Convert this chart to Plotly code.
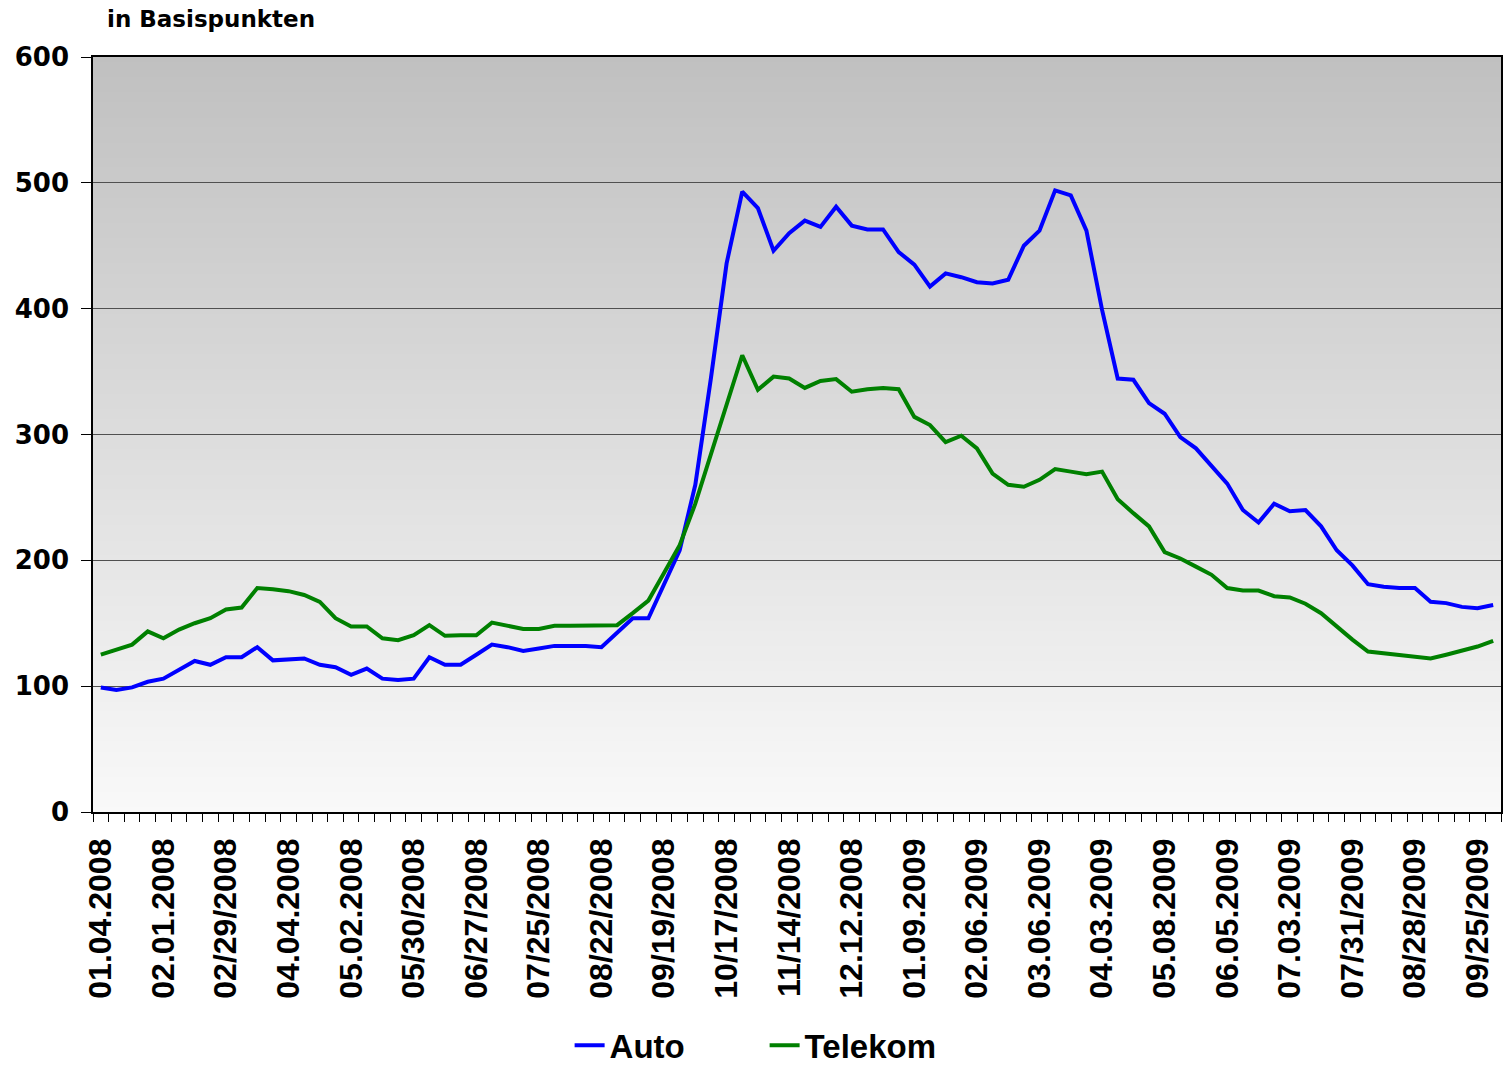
import plotly.graph_objects as go

# ---- data ----
tick_labels = ["01.04.2008", "02.01.2008", "02/29/2008", "04.04.2008", "05.02.2008",
               "05/30/2008", "06/27/2008", "07/25/2008", "08/22/2008", "09/19/2008",
               "10/17/2008", "11/14/2008", "12.12.2008", "01.09.2009", "02.06.2009",
               "03.06.2009", "04.03.2009", "05.08.2009", "06.05.2009", "07.03.2009",
               "07/31/2009", "08/28/2009", "09/25/2009"]

auto = [99, 97, 99, 103.5, 106, 113, 120, 117, 123, 123,
        131, 120.5, 121, 122, 117, 115, 109, 114, 106, 105,
        106, 123, 117, 117, 125, 133, 131, 128, 130, 132,
        132, 132, 131, 142, 154, 154, 181, 208, 260, 345,
        436, 493, 480, 446, 460, 470, 465, 481, 466, 463,
        463, 445, 435, 417.5, 428, 425, 421, 420, 423, 450,
        462, 494, 490, 462, 399, 344.5, 343.5, 325, 316.5, 298,
        289, 275, 261, 240, 230, 245, 239, 240, 227, 208,
        196, 181, 179, 178, 178, 167, 166, 163, 162, 164.5]

telekom = [125, 129, 133, 143.5, 138, 145, 150, 154, 161, 162.5,
           178, 177, 175.5, 172.5, 167, 154, 147.5, 147.5, 138, 136.5,
           140.5, 148.5, 140, 140.5, 140.5, 150.5, 148, 145.5, 145.5, 148,
           148, 148, 148, 148.5, 158, 168, 190, 212, 245, 285,
           325, 363, 335.5, 346, 344.5, 337, 342.5, 344, 334, 336,
           337, 336, 314, 307.5, 294, 299, 289, 269, 260, 258.5,
           264, 272.5, 270.5, 268.5, 270.5, 248.5, 237.5, 227, 206.5, 201.5,
           195, 188.5, 178, 176, 176, 171.5, 170.5, 165.5, 158, 147,
           137, 127.5, 126, 124.5, 123.5, 122, 125, 128.5, 131.5, 136]

weeks = list(range(len(auto)))
label_step = 4
tick_positions = weeks[::label_step][:len(tick_labels)]

fig = go.Figure()
fig.add_trace(go.Scatter(x=weeks, y=auto, name="Auto", mode="lines",
                         line=dict(color="#0000FF", width=4)))
fig.add_trace(go.Scatter(x=weeks, y=telekom, name="Telekom", mode="lines",
                         line=dict(color="#008000", width=4)))

# vertical gradient background (dark top -> light bottom)
N = 150
top = (192, 192, 192)
bot = (249, 249, 249)
shapes = []
for k in range(N):
    t = (k + 0.5) / N
    c = tuple(round(bot[i] + (top[i] - bot[i]) * t) for i in range(3))
    shapes.append(dict(type="rect", xref="x domain", yref="y domain",
                       x0=0, x1=1, y0=k / N, y1=min(1, (k + 1) / N + 0.004),
                       fillcolor="rgb(%d,%d,%d)" % c, line=dict(width=0),
                       layer="below"))

fig.update_layout(
    width=1505, height=1066,
    margin=dict(l=93, r=4, t=57, b=254, autoexpand=False),
    paper_bgcolor="white",
    plot_bgcolor="white",
    shapes=shapes,
    showlegend=True,
    legend=dict(orientation="h", x=0.477, xanchor="center", y=-0.309, yanchor="middle",
                font=dict(family="Liberation Sans", size=33, color="black", weight="bold"),
                itemwidth=30, entrywidth=150, entrywidthmode="pixels",
                tracegroupgap=0, borderwidth=0,
                bgcolor="rgba(0,0,0,0)"),
    annotations=[dict(text="<b>in Basispunkten</b>", xref="paper", yref="paper",
                      x=(105 - 93) / 1408, y=(812 - 19) / 755, xanchor="left", yanchor="middle",
                      showarrow=False,
                      font=dict(family="DejaVu Sans", size=23, color="black"))],
)

fig.update_yaxes(range=[0, 600], dtick=100, tick0=0,
                 showgrid=True, gridcolor="#505050", gridwidth=1,
                 zeroline=False, automargin=False,
                 showline=True, linecolor="black", linewidth=1.5, mirror=True,
                 ticks="outside", ticklen=10, tickcolor="black", tickwidth=1,
                 ticklabelstandoff=7,
                 tickfont=dict(family="DejaVu Sans", size=26, color="black", weight="bold"))

fig.update_xaxes(range=[-0.5, len(weeks) - 0.5],
                 tickmode="array", tickvals=tick_positions, ticktext=tick_labels,
                 tickangle=-90, ticks="", showgrid=False, zeroline=False, automargin=False,
                 showline=True, linecolor="black", linewidth=1.5, mirror=True,
                 ticklabelstandoff=12,
                 minor=dict(tickmode="linear", tick0=-0.5, dtick=1, ticks="outside",
                            ticklen=8, tickcolor="black", tickwidth=1, showgrid=False),
                 tickfont=dict(family="Liberation Sans", size=32, color="black", weight="bold"))

fig.write_html("out.html")
